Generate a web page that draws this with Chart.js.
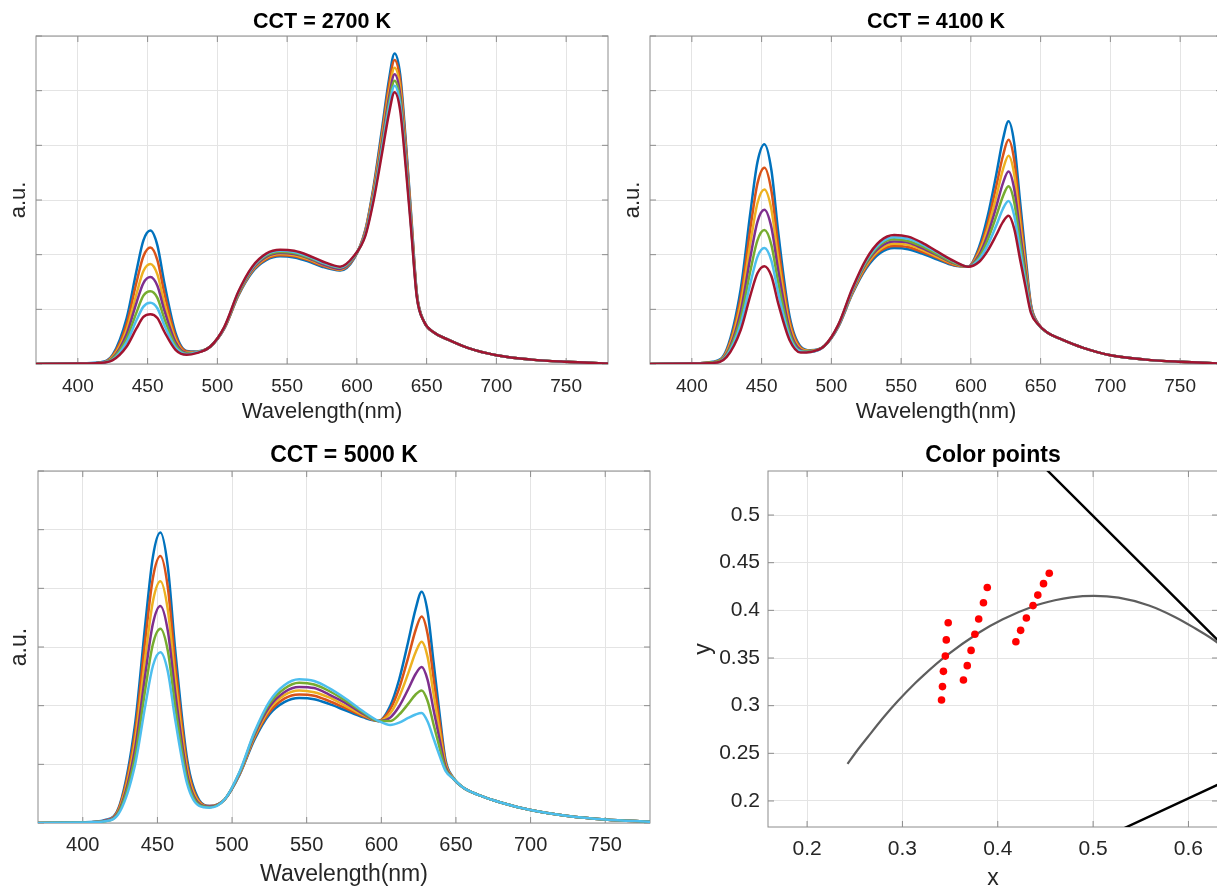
<!DOCTYPE html>
<html>
<head>
<meta charset="utf-8">
<title>LED spectra and color points</title>
<script src="https://cdn.jsdelivr.net/npm/chart.js@4.4.1/dist/chart.umd.min.js"></script>
<style>
    html, body {
        margin: 0;
        padding: 0;
        width: 1217px;
        height: 888px;
        overflow: hidden;
        background: #ffffff;
    }
    canvas {
        position: absolute;
    }
</style>
</head>
<body>
<canvas id="chart2700" width="620" height="430" style="left:0px;top:0px;width:620px;height:430px"></canvas>
<canvas id="chart4100" width="620" height="430" style="left:614px;top:0px;width:620px;height:430px"></canvas>
<canvas id="chart5000" width="662" height="456" style="left:0px;top:432px;width:662px;height:456px"></canvas>
<canvas id="chartPoints" width="550" height="460" style="left:680px;top:432px;width:550px;height:460px"></canvas>
<script>
// sample wavelengths shared by every spectrum (nm)
const wavelengths = [370, 400, 415, 425, 435, 442, 447, 452, 457, 462, 470, 478, 485, 495, 505, 515, 525, 535, 545, 555, 565, 575, 588, 598, 606, 612, 618, 623, 627, 631, 635, 639, 643, 648, 655, 665, 680, 700, 725, 750, 780];
const wavelengthTicks = [400, 450, 500, 550, 600, 650, 700, 750];
const intensityTicks = [0, 1, 2, 3, 4, 5, 6];

// CCT = 2700 K
const s2700_1 = [0, 0.01, 0.03, 0.17, 0.84, 1.70, 2.26, 2.44, 2.17, 1.48, 0.57, 0.24, 0.23, 0.32, 0.65, 1.25, 1.68, 1.90, 1.97, 1.95, 1.88, 1.78, 1.71, 1.93, 2.45, 3.25, 4.30, 5.20, 5.68, 5.30, 4.10, 2.70, 1.29, 0.78, 0.58, 0.45, 0.29, 0.16, 0.08, 0.04, 0.01];
const s2700_2 = [0, 0.01, 0.02, 0.15, 0.73, 1.49, 1.97, 2.13, 1.90, 1.30, 0.51, 0.23, 0.22, 0.32, 0.65, 1.26, 1.70, 1.92, 1.99, 1.97, 1.90, 1.80, 1.72, 1.94, 2.43, 3.21, 4.22, 5.10, 5.56, 5.19, 4.02, 2.65, 1.28, 0.78, 0.58, 0.45, 0.29, 0.16, 0.08, 0.04, 0.01];
const s2700_3 = [0, 0.01, 0.02, 0.13, 0.63, 1.28, 1.70, 1.83, 1.64, 1.12, 0.45, 0.21, 0.22, 0.32, 0.66, 1.27, 1.71, 1.94, 2.01, 1.99, 1.92, 1.82, 1.73, 1.95, 2.41, 3.16, 4.14, 4.97, 5.42, 5.06, 3.92, 2.60, 1.27, 0.78, 0.58, 0.45, 0.29, 0.16, 0.08, 0.04, 0.01];
const s2700_4 = [0, 0.01, 0.02, 0.11, 0.55, 1.12, 1.48, 1.59, 1.43, 0.98, 0.40, 0.20, 0.21, 0.32, 0.66, 1.28, 1.73, 1.96, 2.03, 2.01, 1.94, 1.83, 1.74, 1.95, 2.39, 3.11, 4.06, 4.87, 5.30, 4.94, 3.84, 2.55, 1.26, 0.78, 0.58, 0.45, 0.29, 0.16, 0.08, 0.04, 0.01];
const s2700_5 = [0, 0.01, 0.02, 0.10, 0.47, 0.94, 1.25, 1.33, 1.21, 0.83, 0.35, 0.19, 0.21, 0.32, 0.67, 1.29, 1.75, 1.98, 2.05, 2.03, 1.95, 1.85, 1.76, 1.96, 2.37, 3.07, 3.98, 4.77, 5.18, 4.83, 3.75, 2.50, 1.24, 0.78, 0.58, 0.45, 0.29, 0.16, 0.08, 0.04, 0.01];
const s2700_6 = [0, 0.01, 0.02, 0.08, 0.40, 0.80, 1.05, 1.12, 1.02, 0.71, 0.30, 0.18, 0.21, 0.32, 0.67, 1.31, 1.76, 2.00, 2.07, 2.05, 1.97, 1.86, 1.77, 1.97, 2.36, 3.04, 3.93, 4.69, 5.09, 4.75, 3.69, 2.47, 1.23, 0.78, 0.58, 0.45, 0.29, 0.16, 0.08, 0.04, 0.01];
const s2700_7 = [0, 0.01, 0.02, 0.07, 0.32, 0.65, 0.86, 0.91, 0.84, 0.59, 0.26, 0.17, 0.20, 0.32, 0.68, 1.32, 1.78, 2.02, 2.09, 2.07, 1.99, 1.88, 1.78, 1.98, 2.34, 2.99, 3.85, 4.58, 4.97, 4.64, 3.61, 2.42, 1.22, 0.78, 0.58, 0.45, 0.29, 0.16, 0.08, 0.04, 0.01];

// CCT = 4100 K
const s4100_1 = [0, 0.01, 0.04, 0.27, 1.37, 2.78, 3.69, 4.02, 3.55, 2.39, 0.88, 0.32, 0.25, 0.33, 0.68, 1.28, 1.75, 2.03, 2.12, 2.10, 2.02, 1.92, 1.80, 1.78, 2.15, 2.70, 3.44, 4.11, 4.44, 4.05, 3.04, 2.03, 1.10, 0.75, 0.57, 0.45, 0.30, 0.16, 0.08, 0.04, 0.01];
const s4100_2 = [0, 0.01, 0.03, 0.24, 1.22, 2.49, 3.30, 3.59, 3.17, 2.14, 0.80, 0.30, 0.24, 0.33, 0.69, 1.30, 1.78, 2.07, 2.16, 2.14, 2.05, 1.95, 1.81, 1.78, 2.10, 2.57, 3.23, 3.81, 4.10, 3.74, 2.83, 1.91, 1.07, 0.75, 0.57, 0.45, 0.30, 0.16, 0.08, 0.04, 0.01];
const s4100_3 = [0, 0.01, 0.03, 0.22, 1.09, 2.22, 2.94, 3.19, 2.83, 1.91, 0.72, 0.28, 0.24, 0.33, 0.69, 1.31, 1.81, 2.10, 2.20, 2.18, 2.09, 1.97, 1.83, 1.78, 2.05, 2.47, 3.04, 3.56, 3.81, 3.48, 2.64, 1.81, 1.04, 0.74, 0.57, 0.45, 0.30, 0.16, 0.08, 0.04, 0.01];
const s4100_4 = [0, 0.01, 0.03, 0.19, 0.96, 1.96, 2.60, 2.82, 2.50, 1.70, 0.64, 0.26, 0.23, 0.33, 0.70, 1.33, 1.84, 2.14, 2.24, 2.22, 2.12, 2.00, 1.84, 1.78, 2.00, 2.36, 2.86, 3.31, 3.52, 3.21, 2.46, 1.71, 1.02, 0.74, 0.57, 0.45, 0.30, 0.16, 0.08, 0.04, 0.01];
const s4100_5 = [0, 0.01, 0.03, 0.17, 0.84, 1.71, 2.26, 2.45, 2.18, 1.48, 0.57, 0.24, 0.23, 0.33, 0.71, 1.35, 1.86, 2.18, 2.28, 2.25, 2.15, 2.02, 1.85, 1.78, 1.96, 2.27, 2.69, 3.07, 3.25, 2.97, 2.29, 1.62, 0.99, 0.73, 0.57, 0.45, 0.30, 0.16, 0.08, 0.04, 0.01];
const s4100_6 = [0, 0.01, 0.02, 0.15, 0.73, 1.48, 1.96, 2.12, 1.89, 1.29, 0.50, 0.23, 0.22, 0.33, 0.71, 1.36, 1.89, 2.21, 2.32, 2.29, 2.19, 2.05, 1.87, 1.78, 1.92, 2.17, 2.52, 2.84, 2.98, 2.72, 2.12, 1.52, 0.97, 0.73, 0.57, 0.45, 0.30, 0.16, 0.08, 0.04, 0.01];
const s4100_7 = [0, 0.01, 0.02, 0.13, 0.62, 1.26, 1.66, 1.79, 1.61, 1.10, 0.44, 0.21, 0.22, 0.33, 0.72, 1.38, 1.92, 2.25, 2.36, 2.33, 2.22, 2.07, 1.88, 1.78, 1.87, 2.07, 2.35, 2.60, 2.71, 2.48, 1.95, 1.43, 0.94, 0.73, 0.57, 0.45, 0.30, 0.16, 0.08, 0.04, 0.01];

// CCT = 5000 K
const s5000_1 = [0, 0.01, 0.05, 0.33, 1.68, 3.42, 4.54, 4.95, 4.36, 2.93, 1.07, 0.39, 0.29, 0.40, 0.82, 1.42, 1.85, 2.06, 2.13, 2.11, 2.03, 1.93, 1.80, 1.74, 2.00, 2.45, 3.09, 3.65, 3.94, 3.60, 2.74, 1.87, 1.08, 0.78, 0.60, 0.48, 0.35, 0.22, 0.12, 0.06, 0.02];
const s5000_2 = [0, 0.01, 0.04, 0.31, 1.54, 3.15, 4.18, 4.55, 4.01, 2.70, 0.99, 0.37, 0.29, 0.40, 0.83, 1.45, 1.89, 2.12, 2.19, 2.17, 2.08, 1.97, 1.82, 1.74, 1.94, 2.30, 2.82, 3.29, 3.52, 3.22, 2.47, 1.73, 1.04, 0.77, 0.60, 0.48, 0.35, 0.22, 0.12, 0.06, 0.02];
const s5000_3 = [0, 0.01, 0.04, 0.28, 1.40, 2.85, 3.78, 4.12, 3.63, 2.45, 0.90, 0.35, 0.28, 0.40, 0.84, 1.47, 1.94, 2.18, 2.26, 2.23, 2.14, 2.01, 1.84, 1.74, 1.87, 2.15, 2.55, 2.91, 3.09, 2.83, 2.20, 1.58, 1.00, 0.77, 0.60, 0.48, 0.35, 0.22, 0.12, 0.06, 0.02];
const s5000_4 = [0, 0.01, 0.04, 0.25, 1.26, 2.56, 3.40, 3.70, 3.27, 2.21, 0.82, 0.33, 0.28, 0.40, 0.85, 1.50, 1.98, 2.23, 2.32, 2.30, 2.19, 2.06, 1.86, 1.74, 1.80, 1.99, 2.28, 2.54, 2.66, 2.44, 1.93, 1.43, 0.96, 0.76, 0.60, 0.48, 0.35, 0.22, 0.12, 0.06, 0.02];
const s5000_5 = [0, 0.01, 0.03, 0.23, 1.13, 2.30, 3.05, 3.31, 2.93, 1.98, 0.74, 0.31, 0.27, 0.40, 0.86, 1.53, 2.03, 2.29, 2.39, 2.36, 2.25, 2.10, 1.88, 1.74, 1.74, 1.85, 2.03, 2.19, 2.26, 2.08, 1.68, 1.29, 0.92, 0.76, 0.60, 0.48, 0.35, 0.22, 0.12, 0.06, 0.02];
const s5000_6 = [0, 0.01, 0.03, 0.20, 0.99, 2.02, 2.68, 2.91, 2.58, 1.75, 0.66, 0.29, 0.26, 0.40, 0.87, 1.55, 2.07, 2.35, 2.45, 2.42, 2.30, 2.14, 1.90, 1.74, 1.67, 1.71, 1.79, 1.85, 1.875, 1.73, 1.44, 1.15, 0.89, 0.76, 0.60, 0.48, 0.35, 0.22, 0.12, 0.06, 0.02];

// color points (CIE 1931 x, y)
const cieXTicks = [0.2, 0.3, 0.4, 0.5, 0.6];
const cieYTicks = [0.2, 0.25, 0.3, 0.35, 0.4, 0.45, 0.5];
const points5000X = [0.348, 0.346, 0.345, 0.343, 0.342, 0.341];
const points5000Y = [0.387, 0.369, 0.352, 0.336, 0.320, 0.306];
const points4100X = [0.389, 0.385, 0.380, 0.376, 0.372, 0.368, 0.364];
const points4100Y = [0.424, 0.408, 0.391, 0.375, 0.358, 0.342, 0.327];
const points2700X = [0.454, 0.448, 0.442, 0.437, 0.430, 0.424, 0.419];
const points2700Y = [0.439, 0.428, 0.416, 0.405, 0.392, 0.379, 0.367];
const planckX = [0.2424, 0.2520, 0.2637, 0.2807, 0.2952, 0.3135, 0.3221, 0.3451, 0.3805, 0.4053, 0.4369, 0.4599, 0.4770, 0.5008, 0.5267, 0.5586, 0.5857, 0.6053, 0.6304, 0.6528];
const planckY = [0.2390, 0.2522, 0.2671, 0.2883, 0.3048, 0.3237, 0.3318, 0.3516, 0.3768, 0.3907, 0.4041, 0.4106, 0.4137, 0.4152, 0.4133, 0.4051, 0.3931, 0.3821, 0.3661, 0.3444];
const boundaryX = [0.3731, 0.4441, 0.5125, 0.6270, 0.6915, 0.7347, 0.1741];
const boundaryY = [0.6245, 0.5547, 0.4866, 0.3725, 0.3083, 0.2653, 0.0050];

const lineColors = ["#0072BD", "#D95319", "#EDB120", "#7E2F8E", "#77AC30", "#4DBEEE", "#A2142F"];
const fontFamily = "'Liberation Sans', Arial, Helvetica, sans-serif";

Chart.defaults.font.family = fontFamily;
Chart.defaults.color = "#262626";

// matlab style box with inward tick marks
const boxPlugin = {
    id: "matlabBox",
    beforeDatasetsDraw(chart) {
        const ctx = chart.ctx;
        const area = chart.chartArea;
        const xScale = chart.scales.x;
        const yScale = chart.scales.y;
        const len = 6;

        ctx.save();
        ctx.strokeStyle = "#8c8c8c";
        ctx.lineWidth = 1;
        ctx.strokeRect(area.left, area.top, area.right - area.left, area.bottom - area.top);

        ctx.beginPath();
        xScale.ticks.forEach(tick => {
            const px = xScale.getPixelForValue(tick.value);
            ctx.moveTo(px, area.bottom);
            ctx.lineTo(px, area.bottom - len);
            ctx.moveTo(px, area.top);
            ctx.lineTo(px, area.top + len);
        });
        yScale.ticks.forEach(tick => {
            const py = yScale.getPixelForValue(tick.value);
            ctx.moveTo(area.left, py);
            ctx.lineTo(area.left + len, py);
            ctx.moveTo(area.right, py);
            ctx.lineTo(area.right - len, py);
        });
        ctx.stroke();
        ctx.restore();
    }
};

function toPoints(xs, ys) {
    return xs.map((x, i) => ({ x: x, y: ys[i] }));
}

function spectrumDatasets(seriesList) {
    return seriesList.map((values, i) => ({
        data: toPoints(wavelengths, values),
        borderColor: lineColors[i],
        borderWidth: 2.5,
        pointRadius: 0,
        cubicInterpolationMode: "monotone",
        order: seriesList.length - i
    }));
}

function spectrumChart(id, title, seriesList, size) {
    new Chart(document.getElementById(id), {
        type: "line",
        data: {
            datasets: spectrumDatasets(seriesList)
        },
        options: {
            responsive: false,
            animation: false,
            layout: {
                padding: { left: 0, top: 0, right: 12, bottom: 0 }
            },
            plugins: {
                legend: { display: false },
                tooltip: { enabled: false },
                title: {
                    display: true,
                    text: title,
                    fullSize: false,
                    color: "#000000",
                    font: { size: size.title, weight: "bold" },
                    padding: { top: size.titleTop, bottom: size.titleBottom }
                }
            },
            scales: {
                x: {
                    type: "linear",
                    min: 370,
                    max: 780,
                    afterFit: scale => { scale.height = size.xAxis; },
                    afterBuildTicks: scale => { scale.ticks = wavelengthTicks.map(v => ({ value: v })); },
                    ticks: {
                        maxRotation: 0,
                        autoSkip: false,
                        padding: size.tickPad,
                        font: { size: size.tick },
                        callback: value => String(value)
                    },
                    grid: { color: "#e4e4e4", drawTicks: false },
                    border: { display: false },
                    title: {
                        display: true,
                        text: "Wavelength(nm)",
                        font: { size: size.label },
                        padding: { top: 0, bottom: size.xLabelPad }
                    }
                },
                y: {
                    min: 0,
                    max: 6,
                    afterFit: scale => { scale.width = size.yAxis; },
                    afterBuildTicks: scale => { scale.ticks = intensityTicks.map(v => ({ value: v })); },
                    ticks: {
                        callback: () => ""
                    },
                    grid: { color: "#e4e4e4", drawTicks: false },
                    border: { display: false },
                    title: {
                        display: true,
                        text: "a.u.",
                        font: { size: size.label },
                        padding: { top: 6, bottom: 0 }
                    }
                }
            }
        },
        plugins: [boxPlugin]
    });
}

const topSize = { title: 21.5, titleTop: 9, titleBottom: 1.2, xAxis: 66, yAxis: 36, tick: 19, tickPad: 11, label: 22, xLabelPad: 5 };
const bottomSize = { title: 23, titleTop: 9.5, titleBottom: 1.9, xAxis: 65, yAxis: 38, tick: 20, tickPad: 10, label: 23, xLabelPad: 0 };

spectrumChart("chart2700", "CCT = 2700 K", [s2700_1, s2700_2, s2700_3, s2700_4, s2700_5, s2700_6, s2700_7], topSize);
spectrumChart("chart4100", "CCT = 4100 K", [s4100_1, s4100_2, s4100_3, s4100_4, s4100_5, s4100_6, s4100_7], topSize);
spectrumChart("chart5000", "CCT = 5000 K", [s5000_1, s5000_2, s5000_3, s5000_4, s5000_5, s5000_6], bottomSize);

function redPoints(xs, ys) {
    return {
        data: toPoints(xs, ys),
        pointRadius: 3.8,
        pointBackgroundColor: "#ff0000",
        pointBorderWidth: 0,
        showLine: false,
        order: 1
    };
}

new Chart(document.getElementById("chartPoints"), {
    type: "scatter",
    data: {
        datasets: [
            redPoints(points5000X, points5000Y),
            redPoints(points4100X, points4100Y),
            redPoints(points2700X, points2700Y),
            {
                data: toPoints(planckX, planckY),
                showLine: true,
                borderColor: "#5e5e5e",
                borderWidth: 2.2,
                pointRadius: 0,
                cubicInterpolationMode: "monotone",
                order: 2
            },
            {
                data: toPoints(boundaryX, boundaryY),
                showLine: true,
                borderColor: "#000000",
                borderWidth: 2.4,
                pointRadius: 0,
                tension: 0,
                order: 3
            }
        ]
    },
    options: {
        responsive: false,
        animation: false,
        layout: {
            padding: { left: 0, top: 0, right: 12, bottom: 0 }
        },
        plugins: {
            legend: { display: false },
            tooltip: { enabled: false },
            title: {
                display: true,
                text: "Color points",
                fullSize: false,
                color: "#000000",
                font: { size: 23, weight: "bold" },
                padding: { top: 10, bottom: 1.4 }
            }
        },
        scales: {
            x: {
                type: "linear",
                min: 0.159,
                max: 0.631,
                afterFit: scale => { scale.height = 65; },
                afterBuildTicks: scale => { scale.ticks = cieXTicks.map(v => ({ value: v })); },
                ticks: {
                    maxRotation: 0,
                    autoSkip: false,
                    padding: 10,
                    font: { size: 21 },
                    callback: value => String(value)
                },
                grid: { color: "#e4e4e4", drawTicks: false },
                border: { display: false },
                title: {
                    display: true,
                    text: "x",
                    font: { size: 23 },
                    padding: { top: 0, bottom: 0 }
                }
            },
            y: {
                min: 0.1727,
                max: 0.5462,
                afterFit: scale => { scale.width = 88; },
                afterBuildTicks: scale => { scale.ticks = cieYTicks.map(v => ({ value: v })); },
                ticks: {
                    padding: 8,
                    font: { size: 21 },
                    callback: value => String(value)
                },
                grid: { color: "#e4e4e4", drawTicks: false },
                border: { display: false },
                title: {
                    display: true,
                    text: "y",
                    font: { size: 23 },
                    padding: { top: 10, bottom: 0 }
                }
            }
        }
    },
    plugins: [boxPlugin]
});
</script>
</body>
</html>
